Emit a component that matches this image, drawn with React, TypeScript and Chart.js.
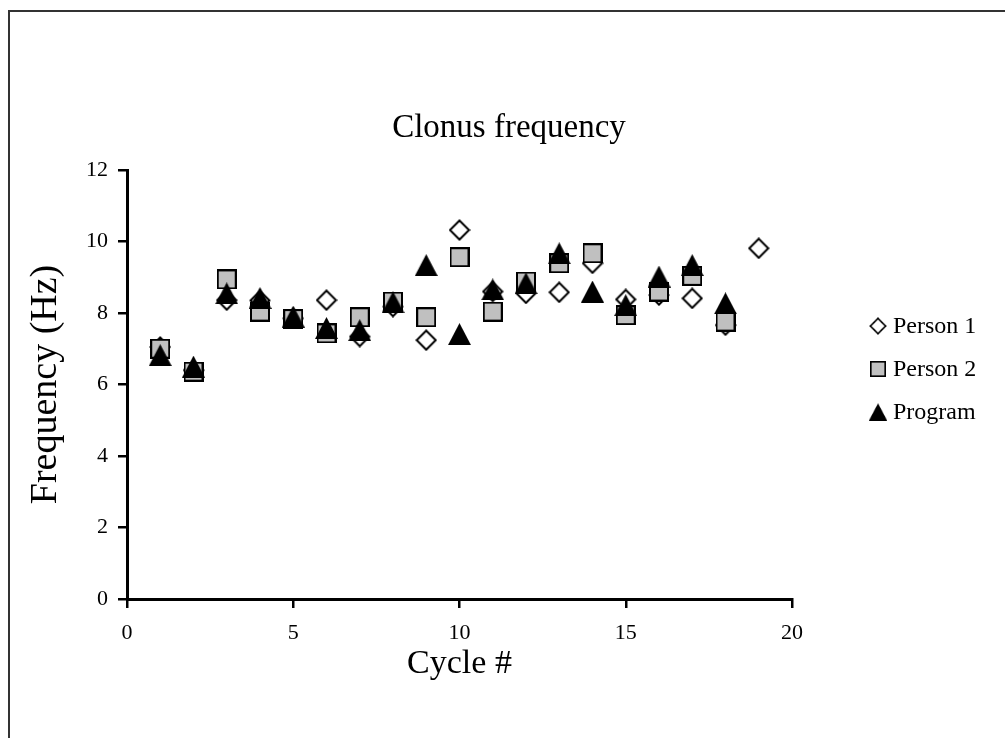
import { useEffect, useRef } from 'react'
import { Chart, registerables } from 'chart.js'

Chart.register(...registerables)

// data
const cycles = [1, 2, 3, 4, 5, 6, 7, 8, 9, 10, 11, 12, 13, 14, 15, 16, 17, 18, 19]
const person1 = [7.05, 6.4, 8.36, 8.35, 7.85, 8.36, 7.34, 8.18, 7.24, 10.32, 8.6, 8.55, 8.58, 9.39, 8.38, 8.5, 8.41, 7.66, 9.81]
const person2 = [7.0, 6.36, 8.94, 8.04, 7.83, 7.43, 7.88, 8.32, 7.88, 9.56, 8.04, 8.88, 9.39, 9.67, 7.94, 8.6, 9.04, 7.76]
const program = [6.82, 6.5, 8.55, 8.42, 7.9, 7.58, 7.52, 8.3, 9.34, 7.41, 8.66, 8.83, 9.67, 8.6, 8.22, 9.02, 9.34, 8.27]
const seriesNames = ['Person 1', 'Person 2', 'Program']
const xTicks = [0, 5, 10, 15, 20]
const yTicks = [0, 2, 4, 6, 8, 10, 12]

const FONT = "'Liberation Serif', 'Times New Roman', serif"

type MarkerKind = 'diamond' | 'square' | 'triangle'

// small canvases used as point styles (Excel-like markers)
function makeMarker(kind: MarkerKind): HTMLCanvasElement {
  const c = document.createElement('canvas')
  const ctx = c.getContext('2d')!
  if (kind === 'diamond') {
    c.width = 22
    c.height = 22
    ctx.beginPath()
    ctx.moveTo(11, 1.5)
    ctx.lineTo(20.5, 11)
    ctx.lineTo(11, 20.5)
    ctx.lineTo(1.5, 11)
    ctx.closePath()
    ctx.fillStyle = '#fff'
    ctx.fill()
    ctx.lineWidth = 2
    ctx.strokeStyle = '#000'
    ctx.stroke()
  } else if (kind === 'square') {
    c.width = 20
    c.height = 20
    ctx.fillStyle = '#c0c0c0'
    ctx.fillRect(1, 1, 18, 18)
    ctx.lineWidth = 2
    ctx.strokeStyle = '#000'
    ctx.strokeRect(1, 1, 18, 18)
  } else {
    c.width = 23
    c.height = 22
    ctx.beginPath()
    ctx.moveTo(11.5, 0)
    ctx.lineTo(23, 22)
    ctx.lineTo(0, 22)
    ctx.closePath()
    ctx.fillStyle = '#000'
    ctx.fill()
  }
  return c
}

export default function App() {
  const chartRef = useRef<HTMLCanvasElement>(null)
  const chartInstance = useRef<Chart | null>(null)

  useEffect(() => {
    if (!chartRef.current) return
    if (chartInstance.current) {
      chartInstance.current.destroy()
      chartInstance.current = null
    }

    const markers = [makeMarker('diamond'), makeMarker('square'), makeMarker('triangle')]
    const values = [person1, person2, program]

    // frame, title and legend drawn by hand
    const decorations = {
      id: 'decorations',
      afterDraw(chart: Chart) {
        const { ctx } = chart
        ctx.save()
        ctx.strokeStyle = '#333'
        ctx.lineWidth = 2
        ctx.beginPath()
        ctx.moveTo(1005, 11)
        ctx.lineTo(9, 11)
        ctx.lineTo(9, 738)
        ctx.stroke()

        ctx.fillStyle = '#000'
        ctx.font = `33px ${FONT}`
        ctx.textAlign = 'center'
        ctx.textBaseline = 'middle'
        ctx.fillText('Clonus frequency', 509, 128)

        ctx.font = `24px ${FONT}`
        ctx.textAlign = 'left'
        ctx.textBaseline = 'middle'
        const legendY = [326, 369, 412]
        seriesNames.forEach((name, i) => {
          const m = markers[i]
          const w = m.width * 0.8
          const h = m.height * 0.8
          ctx.drawImage(m, 878 - w / 2, legendY[i] - h / 2, w, h)
          ctx.fillText(name, 893, legendY[i] + 1)
        })
        ctx.restore()
      }
    }

    chartInstance.current = new Chart(chartRef.current, {
      type: 'scatter',
      data: {
        datasets: seriesNames.map((name, i) => ({
          label: name,
          data: values[i].map((v, j) => ({ x: cycles[j], y: v })),
          pointStyle: markers[i],
          pointRadius: 10,
          order: 2 - i
        }))
      },
      options: {
        responsive: false,
        animation: false,
        layout: { padding: { left: 20, top: 170, right: 213, bottom: 0 } },
        plugins: {
          legend: { display: false },
          tooltip: { enabled: false },
          title: { display: false }
        },
        scales: {
          x: {
            type: 'linear',
            min: 0,
            max: 20,
            afterFit: (scale) => {
              scale.height = 139
            },
            afterBuildTicks: (scale) => {
              scale.ticks = xTicks.map((v) => ({ value: v }))
            },
            ticks: { color: '#000', padding: 12, font: { size: 22, family: FONT } },
            grid: {
              display: true,
              drawOnChartArea: false,
              drawTicks: true,
              tickLength: 9,
              lineWidth: 2.5,
              color: '#000'
            },
            border: { display: true, width: 3, color: '#000' },
            title: {
              display: true,
              text: 'Cycle #',
              color: '#000',
              font: { size: 34, family: FONT },
              padding: { top: 0, bottom: 54 }
            }
          },
          y: {
            type: 'linear',
            min: 0,
            max: 12,
            afterFit: (scale) => {
              scale.width = 107
            },
            afterBuildTicks: (scale) => {
              scale.ticks = yTicks.map((v) => ({ value: v }))
            },
            ticks: { color: '#000', padding: 10, font: { size: 22, family: FONT } },
            grid: {
              display: true,
              drawOnChartArea: false,
              drawTicks: true,
              tickLength: 9,
              lineWidth: 2.5,
              color: '#000'
            },
            border: { display: true, width: 3, color: '#000' },
            title: {
              display: true,
              text: 'Frequency (Hz)',
              color: '#000',
              font: { size: 38, family: FONT },
              padding: { top: 3, bottom: 0 }
            }
          }
        }
      },
      plugins: [decorations]
    })

    return () => {
      if (chartInstance.current) {
        chartInstance.current.destroy()
        chartInstance.current = null
      }
    }
  }, [])

  return (
    <div style={{ position: 'fixed', left: 0, top: 0, width: 1005, height: 738, background: '#fff' }}>
      <canvas ref={chartRef} width={1005} height={738} style={{ width: 1005, height: 738 }} />
    </div>
  )
}
